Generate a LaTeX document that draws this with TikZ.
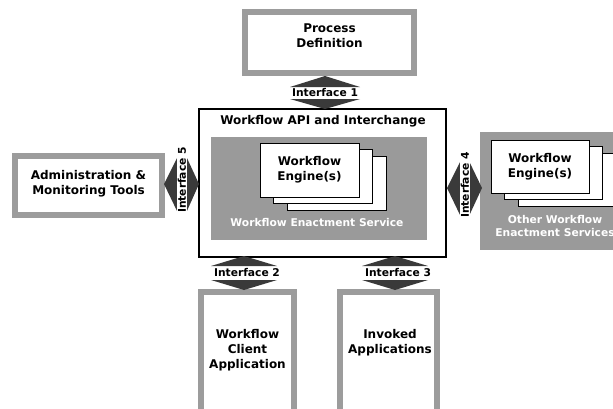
\documentclass[tikz,border=0pt]{standalone}
\usepackage{fontspec}
\setmainfont{DejaVu Sans}
\definecolor{framegray}{HTML}{9C9C9C}
\definecolor{servgray}{HTML}{9A9A9A}
\definecolor{arrowdark}{HTML}{3A3A3A}
\begin{document}
\begin{tikzpicture}[x=1pt,y=-1pt,
  every node/.style={inner sep=0pt, align=center},
  lbl/.style={font=\bfseries\fontsize{12}{15}\selectfont},
  wlbl/.style={font=\bfseries\fontsize{10.7}{13}\selectfont, text=white},
  iflbl/.style={font=\bfseries\fontsize{10.7}{13}\selectfont, fill=white, inner sep=0.5pt},
  framebox/.style={draw=framegray, line width=6pt, fill=white},
  engbox/.style={draw=black, line width=0.9pt, fill=white, minimum width=99pt, minimum height=54pt},
  ifarrow/.style={fill=arrowdark}
]
\useasboundingbox (0,0) rectangle (613,408);
\clip (0,0) rectangle (613,408);

% Process Definition
\node[framebox, minimum width=169pt, minimum height=61pt] (pd) at (329.5,42.5) {};
\node[lbl] (pdt) at (329.5,36) {Process\\Definition};

% Admin
\node[framebox, minimum width=147pt, minimum height=59pt] (adm) at (88.5,185.5) {};
\node[lbl] (admt) at (88.5,183.5) {Administration \&\\Monitoring Tools};

% Client and invoked
\node[framebox, minimum width=93pt, minimum height=122pt] (cli) at (247.5,353) {};
\node[lbl] (clit) at (247.5,350) {Workflow\\Client\\Application};
\node[framebox, minimum width=97pt, minimum height=122pt] (inv) at (388.5,353) {};
\node[lbl] (invt) at (390,343) {Invoked\\Applications};

% API box
\node[draw=black, line width=1.2pt, fill=white, minimum width=247pt, minimum height=148pt] (api) at (322.5,183) {};
\node[lbl] (apit) at (323,121) {Workflow API and Interchange};
\node[fill=servgray, minimum width=216pt, minimum height=103pt] (svc) at (319,188.5) {};
\node[engbox] (e3) at (336.5,183.4) {};
\node[engbox] (e2) at (323,176.7) {};
\node[engbox, lbl] (e1) at (309.5,170) {Workflow\\Engine(s)};
\node[wlbl] (svct) at (317,223) {Workflow Enactment Service};

% Other services
\node[fill=servgray, minimum width=160pt, minimum height=118pt] (osvc) at (560,191) {};
\node[engbox, minimum width=98pt, minimum height=53pt] (o3) at (567,179.9) {};
\node[engbox, minimum width=98pt, minimum height=53pt] (o2) at (553.5,173.2) {};
\node[engbox, minimum width=98pt, minimum height=53pt, lbl] (o1) at (540,166.5) {Workflow\\Engine(s)};
\node[wlbl] (osvct) at (555,226.5) {Other Workflow\\Enactment Services};

% Interface 1
\fill[ifarrow] (325,76) -- (290,87) -- (360,87) -- cycle;
\fill[ifarrow] (290,99) -- (360,99) -- (325,109) -- cycle;
\node[iflbl] (if1) at (325,93) {Interface 1};

% Interface 5
\fill[ifarrow] (164,184) -- (177.5,157) -- (177.5,212) -- cycle;
\fill[ifarrow] (199,184) -- (186.5,157) -- (186.5,212) -- cycle;
\node[iflbl, rotate=90] (if5) at (182,180) {Interface 5};

% Interface 4
\fill[ifarrow] (447,188) -- (460.5,161) -- (460.5,216) -- cycle;
\fill[ifarrow] (482,188) -- (469,161) -- (469,216) -- cycle;
\node[iflbl, rotate=90] (if4) at (465,185) {Interface 4};

% Interface 2
\fill[ifarrow] (244,256) -- (211,266) -- (277,266) -- cycle;
\fill[ifarrow] (211,280) -- (277,280) -- (244,290) -- cycle;
\node[iflbl] (if2) at (247,273) {Interface 2};

% Interface 3
\fill[ifarrow] (395,256) -- (362,266) -- (428,266) -- cycle;
\fill[ifarrow] (362,280) -- (428,280) -- (395,290) -- cycle;
\node[iflbl] (if3) at (398,273) {Interface 3};
\end{tikzpicture}
\end{document}
